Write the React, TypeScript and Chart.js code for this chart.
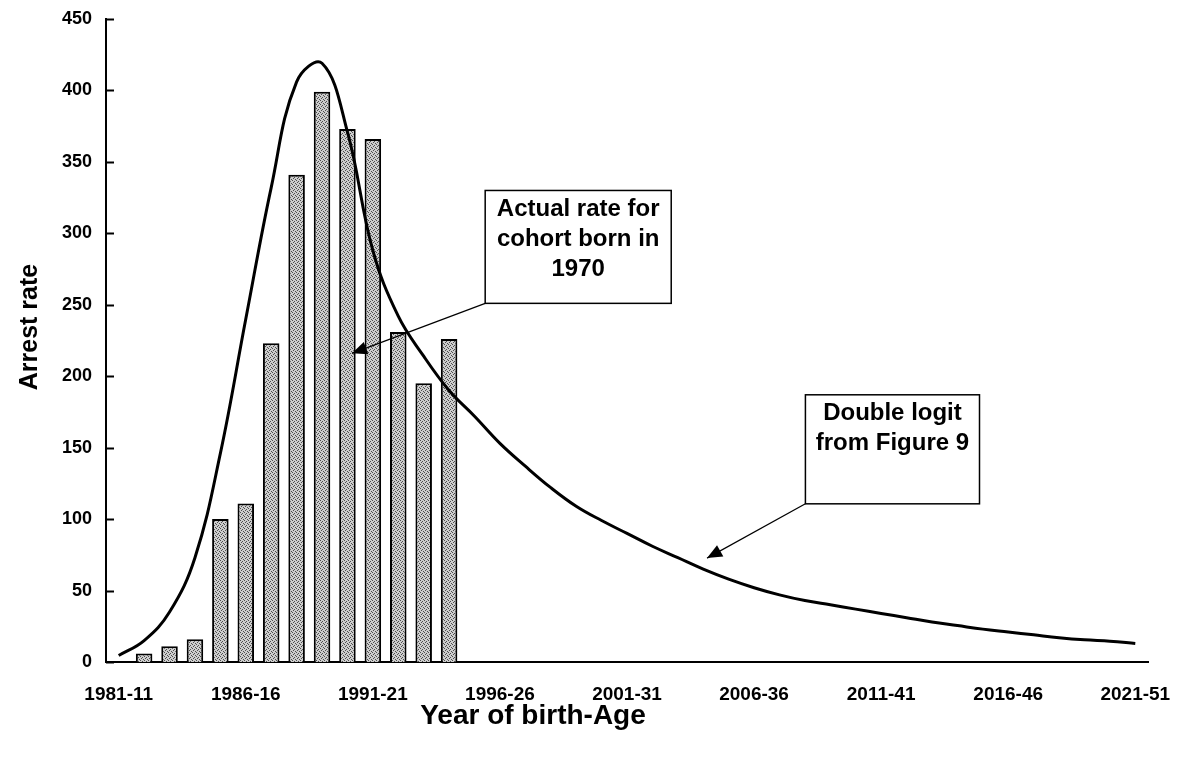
import React, { useEffect, useRef } from "react";
import { Chart, registerables } from "chart.js";

Chart.register(...registerables);

const categories = [
  "1981-11", "1982-12", "1983-13", "1984-14", "1985-15",
  "1986-16", "1987-17", "1988-18", "1989-19", "1990-20",
  "1991-21", "1992-22", "1993-23", "1994-24", "1995-25",
  "1996-26", "1997-27", "1998-28", "1999-29", "2000-30",
  "2001-31", "2002-32", "2003-33", "2004-34", "2005-35",
  "2006-36", "2007-37", "2008-38", "2009-39", "2010-40",
  "2011-41", "2012-42", "2013-43", "2014-44", "2015-45",
  "2016-46", "2017-47", "2018-48", "2019-49", "2020-50",
  "2021-51",
];

const shownTicks = [
  "1981-11", "1986-16", "1991-21", "1996-26", "2001-31",
  "2006-36", "2011-41", "2016-46", "2021-51",
];

// Actual rate for cohort born in 1970 (bars)
const actualRate = [
  null, 6, 11, 16, 100, 111, 223, 341, 399, 373, 366, 231, 195, 226,
  null, null, null, null, null, null, null, null, null, null, null, null, null,
  null, null, null, null, null, null, null, null, null, null, null, null, null, null,
];

// Double logit from Figure 9 (line)
const doubleLogit = [
  4.5, 15, 35, 73, 146, 240, 332, 406, 419, 371,
  288, 242, 214, 190, 172, 153, 137, 122, 109, 99,
  90, 81, 73, 65, 58, 52, 47, 43, 40, 37,
  34, 31, 28, 25.5, 23, 21, 19, 17, 15.5, 14.5,
  13,
];

const yTicks = [0, 50, 100, 150, 200, 250, 300, 350, 400, 450];
const yTitle = "Arrest rate";
const xTitle = "Year of birth-Age";

// Callouts, positioned in data units (category index, value)
const callouts = [
  { lines: ["Actual rate for", "cohort born in", "1970"], x0: 14.42, x1: 21.74, yTop: 330, yBottom: 251, tipX: 9.18, tipY: 216 },
  { lines: ["Double logit", "from Figure 9"], x0: 27.02, x1: 33.87, yTop: 187, yBottom: 110.7, tipX: 23.15, tipY: 72.7 },
];

const FONT = '"Liberation Sans", Arial, Helvetica, sans-serif';

const overlayPlugin = {
  id: "overlay",
  afterDraw(chart: any) {
    const { ctx, chartArea, scales } = chart;
    const x = scales.x;
    const y = scales.y;
    ctx.save();
    // inner tick marks on y axis
    ctx.strokeStyle = "#000";
    ctx.lineWidth = 2;
    for (const v of yTicks) {
      const py = Math.round(y.getPixelForValue(v)) + 0.5;
      ctx.beginPath();
      ctx.moveTo(chartArea.left, py);
      ctx.lineTo(chartArea.left + 8, py);
      ctx.stroke();
    }
    // axis titles
    ctx.fillStyle = "#000";
    ctx.textAlign = "center";
    ctx.textBaseline = "middle";
    ctx.font = `bold 28px ${FONT}`;
    ctx.fillText(xTitle, 533, 716);
    ctx.font = `bold 25px ${FONT}`;
    ctx.save();
    ctx.translate(30, 327);
    ctx.rotate(-Math.PI / 2);
    ctx.fillText(yTitle, 0, 0);
    ctx.restore();

    // callouts
    const xp = (v: number) => {
      const a = x.getPixelForValue(0);
      const b = x.getPixelForValue(1);
      return a + (b - a) * v;
    };
    for (const c of callouts) {
      const left = xp(c.x0);
      const right = xp(c.x1);
      const top = y.getPixelForValue(c.yTop);
      const bottom = y.getPixelForValue(c.yBottom);
      ctx.fillStyle = "#fff";
      ctx.fillRect(left, top, right - left, bottom - top);
      ctx.strokeStyle = "#000";
      ctx.lineWidth = 1.5;
      ctx.strokeRect(left, top, right - left, bottom - top);
      ctx.fillStyle = "#000";
      ctx.font = `bold 24px ${FONT}`;
      ctx.textAlign = "center";
      ctx.textBaseline = "middle";
      c.lines.forEach((t, i) => {
        ctx.fillText(t, (left + right) / 2, top + 19 + i * 30);
      });
      // arrow
      const tx = xp(c.tipX);
      const ty = y.getPixelForValue(c.tipY);
      const sx = left;
      const sy = bottom;
      ctx.lineWidth = 1.2;
      ctx.beginPath();
      ctx.moveTo(sx, sy);
      ctx.lineTo(tx, ty);
      ctx.stroke();
      const ang = Math.atan2(ty - sy, tx - sx);
      const len = 15;
      const hw = 6.5;
      const bx = tx - Math.cos(ang) * len;
      const by = ty - Math.sin(ang) * len;
      ctx.beginPath();
      ctx.moveTo(tx, ty);
      ctx.lineTo(bx + Math.sin(ang) * hw, by - Math.cos(ang) * hw);
      ctx.lineTo(bx - Math.sin(ang) * hw, by + Math.cos(ang) * hw);
      ctx.closePath();
      ctx.fill();
    }
    ctx.restore();
  },
};

function makePattern(): CanvasPattern | string {
  const pc = document.createElement("canvas");
  pc.width = 4;
  pc.height = 4;
  const p = pc.getContext("2d");
  if (!p) return "#afafaf";
  p.fillStyle = "#cdcdcd";
  p.fillRect(0, 0, 4, 4);
  p.fillStyle = "#4e4e4e";
  p.fillRect(0, 0, 1, 1);
  p.fillRect(2, 1, 1, 1);
  p.fillRect(1, 2, 1, 1);
  p.fillRect(3, 3, 1, 1);
  const pat = p.createPattern(pc, "repeat");
  return pat || "#afafaf";
}

export default function App() {
  const ref = useRef<HTMLCanvasElement | null>(null);
  useEffect(() => {
    document.body.style.margin = "0";
    document.body.style.overflow = "hidden";
    if (!ref.current) return;
    const yFont = { family: FONT, size: 18, weight: "bold" as const };
    const xFont = { family: FONT, size: 19, weight: "bold" as const };
    const chart = new Chart(ref.current, {
      type: "bar",
      data: {
        labels: categories,
        datasets: [
          {
            type: "line" as const,
            label: "Double logit from Figure 9",
            data: doubleLogit,
            borderColor: "#000",
            borderWidth: 3,
            pointRadius: 0,
            tension: 0.4,
            fill: false,
            order: 0,
          },
          {
            type: "bar" as const,
            label: "Actual rate for cohort born in 1970",
            data: actualRate as any,
            backgroundColor: makePattern() as any,
            borderColor: "#000",
            borderWidth: 2,
            barPercentage: 0.65,
            categoryPercentage: 1,
            order: 1,
          },
        ],
      },
      options: {
        responsive: false,
        animation: false,
        layout: { padding: { top: 19, right: 32, left: 0, bottom: 0 } },
        plugins: {
          legend: { display: false },
          tooltip: { enabled: false },
        },
        scales: {
          x: {
            type: "category",
            offset: true,
            grid: { display: false, drawTicks: false },
            border: { display: true, color: "#000", width: 2 },
            ticks: {
              autoSkip: false,
              maxRotation: 0,
              minRotation: 0,
              padding: 21,
              color: "#000",
              font: xFont,
              callback: (_v: any, i: number) => (shownTicks.includes(categories[i]) ? categories[i] : ""),
            },
            afterFit: (s: any) => {
              s.height = 96;
              s.paddingLeft = 0;
              s.paddingRight = 0;
            },
          },
          y: {
            min: 0,
            max: 450,
            ticks: { stepSize: 50, padding: 14, color: "#000", font: yFont },
            grid: { display: false, drawTicks: false },
            border: { display: true, color: "#000", width: 2 },
            afterFit: (s: any) => {
              s.width = 106;
              s.paddingTop = 0;
              s.paddingBottom = 0;
            },
          },
        },
      },
      plugins: [overlayPlugin],
    });
    return () => chart.destroy();
  }, []);
  return (
    <div style={{ width: 1180, height: 758, background: "#fff" }}>
      <canvas ref={ref} width={1180} height={758} style={{ display: "block" }} />
    </div>
  );
}
